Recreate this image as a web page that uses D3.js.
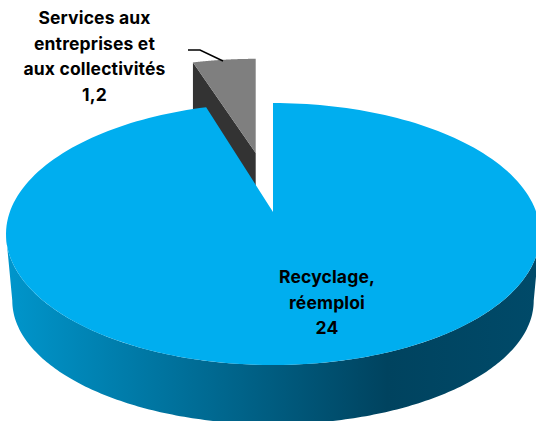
<!DOCTYPE html>
<html><head><meta charset="utf-8">
<script src="https://cdn.jsdelivr.net/npm/d3@7"></script>
<style>html,body{margin:0;background:#fff}svg{display:block}text{font-family:Inter,sans-serif;font-weight:700;font-size:17.5px;letter-spacing:.15px;fill:#000;text-anchor:middle}</style>
</head><body><svg id="c" width="536" height="421"></svg>
<script>
const categories = ["Recyclage, réemploi", "Services aux entreprises et aux collectivités"];
const values = [24, 1.2];
const valueLabels = ["24", "1,2"];
const labelLines = [["Recyclage,", "réemploi"], ["Services aux", "entreprises et", "aux collectivités"]];
const sideStops = [[0, "#0096cc"], [0.72, "#00435f"], [1, "#004a69"]];

const svg = d3.select("#c");
const pie = d3.pie().sort(null).value(d => d);
const arcs = pie(values);
const p = 0.168;
const proj = (o, a) => {
  const u = Math.sin(a), v = Math.cos(a), w = 1 + p * v;
  return [o.x + o.A * u / w, o.y - o.B * v / w];
};
const sample = (o, a0, a1) => d3.range(0, 201).map(i => proj(o, a0 + (a1 - a0) * i / 200));
const line = d3.line();

const topP = {x: 273, y: 212, A: 263.2, B: 127.3};
const botP = {x: 273, y: 280, A: 257, B: 120};
const greyP = {x: 255.7, y: 153, A: 247, B: 110};
const greyDepth = 48;

const defs = svg.append("defs");
const grad = defs.append("linearGradient").attr("id", "side")
  .attr("gradientUnits", "userSpaceOnUse").attr("x1", 6).attr("x2", 536).attr("y1", 0).attr("y2", 0);
grad.selectAll("stop").data(sideStops).join("stop")
  .attr("offset", d => d[0]).attr("stop-color", d => d[1]);

const blue = arcs[0], grey = arcs[1];
const gOuter = sample(greyP, grey.startAngle, grey.endAngle);
const gStart = gOuter[0];
svg.append("path").attr("fill", "#333333")
  .attr("d", line([gStart, [greyP.x, greyP.y], [greyP.x, greyP.y + greyDepth], [gStart[0], gStart[1] + greyDepth]]) + "Z");
svg.append("path").attr("fill", "#7f7f7f")
  .attr("d", line([[greyP.x, greyP.y], ...gOuter]) + "Z");

const tan = Math.asin(p);
const a0 = Math.PI / 2 + tan, a1 = 3 * Math.PI / 2 - tan;
svg.append("path").attr("fill", "url(#side)")
  .attr("d", line([...sample(topP, a0, a1), ...sample(botP, a1, a0)]) + "Z");

svg.append("path").attr("fill", "#00aeef")
  .attr("d", line([[topP.x, topP.y], ...sample(topP, blue.startAngle, blue.endAngle)]) + "Z");

const lx = d3.scaleIdentity();
svg.append("path").attr("fill", "none").attr("stroke", "#000").attr("stroke-width", 1.5)
  .attr("d", line([[lx(188), 50], [lx(200), 50], [lx(223), 61]]));

const lab = (lines, x, y0, dy) => lines.forEach((t, i) =>
  svg.append("text").attr("x", x).attr("y", y0 + i * dy).text(t));
lab([...labelLines[0], valueLabels[0]], 327, 283, 25.5);
lab([...labelLines[1], valueLabels[1]], 94.5, 24, 25.7);
</script></body></html>
